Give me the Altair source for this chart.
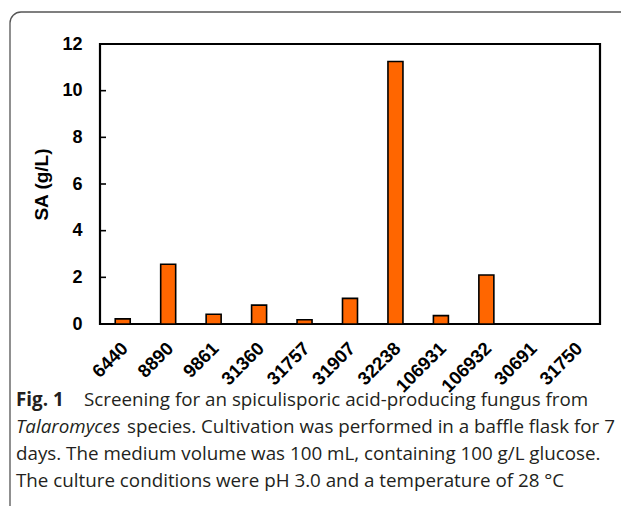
import altair as alt
import pandas as pd

# Spiculisporic acid titre for each Talaromyces strain
strains = ["6440", "8890", "9861", "31360", "31757", "31907",
           "32238", "106931", "106932", "30691", "31750"]
sa_gL = [0.22, 2.56, 0.42, 0.81, 0.18, 1.10, 11.25, 0.36, 2.10, 0.0, 0.0]
y_ticks = [0, 2, 4, 6, 8, 10, 12]

caption_lines = [
    [("Fig. 1", "bold", "normal"),
     ("Screening for an spiculisporic acid-producing fungus from", "normal", "normal")],
    [("Talaromyces", "normal", "italic"),
     ("species. Cultivation was performed in a baffle flask for 7", "normal", "normal")],
    [("days. The medium volume was 100 mL, containing 100 g/L glucose.", "normal", "normal")],
    [("The culture conditions were pH 3.0 and a temperature of 28 °C", "normal", "normal")],
]
# left offset of each caption segment within its line
segment_x = [[-84, -16], [-84, 27], [-84], [-84]]

df = pd.DataFrame({"strain": strains, "sa": sa_gL})
tick_df = pd.DataFrame({"t": y_ticks[1:-1]})

AX_FONT = "Liberation Sans"
CAP_FONT = "Open Sans"

x_enc = alt.X("strain:N", sort=strains,
              scale=alt.Scale(paddingInner=0, paddingOuter=0),
              axis=alt.Axis(title=None, labelAngle=-45, labelAlign="right",
                            labelBaseline="middle", labelPadding=21,
                            labelOffset=2, ticks=False, domain=False,
                            labelFont=AX_FONT, labelFontSize=18.5,
                            labelFontWeight="bold", labelColor="black"))
y_scale = alt.Scale(domain=[0, 12], nice=False)

bars = alt.Chart(df).mark_bar(
    size=15, color="#ff6600", stroke="black", strokeWidth=1.6
).encode(
    x=x_enc,
    y=alt.Y("sa:Q", scale=y_scale,
            axis=alt.Axis(title="SA (g/L)", values=y_ticks, grid=False,
                          ticks=False, domain=False, labelPadding=18,
                          labelFont=AX_FONT, labelFontSize=18,
                          labelFontWeight="bold", labelColor="black",
                          titleFont=AX_FONT, titleFontSize=19,
                          titleFontWeight="bold", titleColor="black",
                          titlePadding=10)),
)

# short inward tick marks on the left edge
ticks = alt.Chart(tick_df).mark_rule(color="black", strokeWidth=1.6).encode(
    y=alt.Y("t:Q", scale=y_scale),
    x=alt.value(0), x2=alt.value(6),
)

# rounded outer figure frame
frame = alt.Chart(pd.DataFrame({"f": [0]})).mark_rect(
    fill=None, stroke="#555555", strokeWidth=1.3, cornerRadius=11
).encode(x=alt.value(-90), x2=alt.value(560), y=alt.value(-32), y2=alt.value(520))

caption_layers = []
for i, (line, xs) in enumerate(zip(caption_lines, segment_x)):
    for (txt, weight, style), xpos in zip(line, xs):
        caption_layers.append(
            alt.Chart(pd.DataFrame({"c": [txt]})).mark_text(
                align="left", baseline="alphabetic", font=CAP_FONT,
                fontSize=18.8, fontWeight=weight, fontStyle=style, color="#231f20"
            ).encode(text="c:N", x=alt.value(xpos), y=alt.value(362 + 27 * i))
        )

chart = alt.layer(frame, bars, ticks, *caption_layers).properties(
    width=500, height=280,
    padding={"left": 100, "top": 44, "right": 21, "bottom": 182},
    autosize=alt.AutoSizeParams(type="none"),
    background="white",
).configure_view(stroke="black", strokeWidth=2.2)

chart.save("out.html", embed_options={"renderer": "svg", "actions": False})
